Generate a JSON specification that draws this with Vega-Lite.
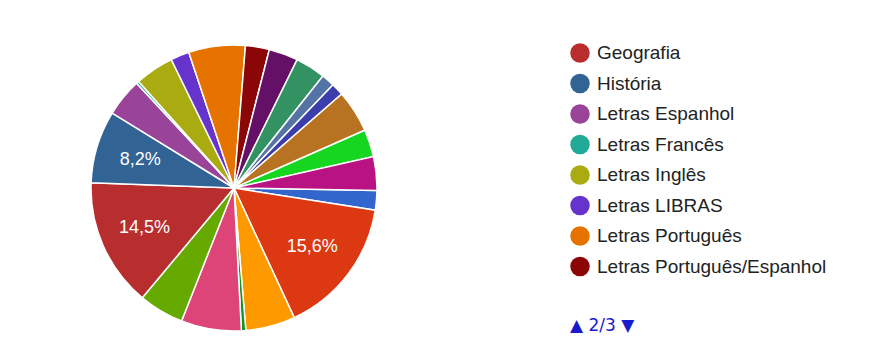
{
  "$schema": "https://vega.github.io/schema/vega-lite/v6.json",
  "width": 468,
  "height": 346,
  "autosize": {"type": "none"},
  "padding": {"left": 0, "top": 15, "right": 401, "bottom": 0},
  "background": "white",
  "config": {"view": {"stroke": null}},
  "data": {
    "values": [
      {"idx": 0, "curso": "Artes Visuais", "pct": 2.2},
      {"idx": 1, "curso": "Ciências Biológicas", "pct": 15.6},
      {"idx": 2, "curso": "Ciências Sociais", "pct": 5.6},
      {"idx": 3, "curso": "Dança", "pct": 0.5},
      {"idx": 6, "curso": "Educação Física", "pct": 6.8},
      {"idx": 7, "curso": "Filosofia", "pct": 5.1},
      {"idx": 8, "curso": "Geografia", "pct": 14.5},
      {"idx": 9, "curso": "História", "pct": 8.2},
      {"idx": 10, "curso": "Letras Espanhol", "pct": 4.3},
      {"idx": 11, "curso": "Letras Francês", "pct": 0.3},
      {"idx": 12, "curso": "Letras Inglês", "pct": 4.4},
      {"idx": 13, "curso": "Letras LIBRAS", "pct": 2.1},
      {"idx": 14, "curso": "Letras Português", "pct": 6.4},
      {"idx": 15, "curso": "Letras Português/Espanhol", "pct": 2.7},
      {"idx": 16, "curso": "Matemática", "pct": 3.3},
      {"idx": 17, "curso": "Música", "pct": 3.4},
      {"idx": 18, "curso": "Pedagogia", "pct": 1.5},
      {"idx": 19, "curso": "Psicologia", "pct": 1.4},
      {"idx": 20, "curso": "Química", "pct": 4.8},
      {"idx": 21, "curso": "Sociologia", "pct": 3.1},
      {"idx": 22, "curso": "Teatro", "pct": 3.8}
    ]
  },
  "encoding": {
    "theta": {"field": "pct", "type": "quantitative", "stack": true, "scale": {"range": [1.5882, 7.8714]}},
    "order": {"field": "idx", "type": "quantitative"}
  },
  "layer": [
    {
      "mark": {"type": "arc", "outerRadius": 143, "stroke": "white", "strokeWidth": 1.5},
      "encoding": {
        "color": {
          "field": "curso",
          "type": "nominal",
          "scale": {
            "domain": ["Artes Visuais", "Ciências Biológicas", "Ciências Sociais", "Dança", "Educação Física", "Filosofia", "Geografia", "História", "Letras Espanhol", "Letras Francês", "Letras Inglês", "Letras LIBRAS", "Letras Português", "Letras Português/Espanhol", "Matemática", "Música", "Pedagogia", "Psicologia", "Química", "Sociologia", "Teatro"],
            "range": ["#3366cc", "#dc3912", "#ff9900", "#109618", "#dd4477", "#66aa00", "#b82e2e", "#316395", "#994499", "#22aa99", "#aaaa11", "#6633cc", "#e67300", "#8b0707", "#651067", "#329262", "#5574a6", "#3b3eac", "#b77322", "#16d620", "#b91383"]
          },
          "legend": {
            "orient": "none",
            "legendX": 570,
            "legendY": 28,
            "padding": 0,
            "values": ["Geografia", "História", "Letras Espanhol", "Letras Francês", "Letras Inglês", "Letras LIBRAS", "Letras Português", "Letras Português/Espanhol"],
            "symbolType": "circle",
            "symbolSize": 380,
            "symbolStrokeWidth": 0,
            "labelFont": "Liberation Sans",
            "labelFontSize": 19,
            "labelColor": "#222222",
            "labelOffset": 7,
            "labelLimit": 400,
            "rowPadding": 10.5,
            "title": "▲ 2/3 ▼",
            "titleOrient": "bottom",
            "titleAnchor": "start",
            "titleFont": "DejaVu Sans",
            "titleFontSize": 17,
            "titleFontWeight": "normal",
            "titleColor": "#1a1acc",
            "titlePadding": 41
          }
        }
      }
    },
    {
      "transform": [
        {"calculate": "datum.pct >= 8 ? replace(format(datum.pct, '.1f'), '.', ',') + '%' : ''", "as": "lab"}
      ],
      "mark": {"type": "text", "radius": 98, "fontSize": 18, "font": "Liberation Sans", "fill": "white"},
      "encoding": {
        "text": {"field": "lab", "type": "nominal"}
      }
    }
  ]
}
